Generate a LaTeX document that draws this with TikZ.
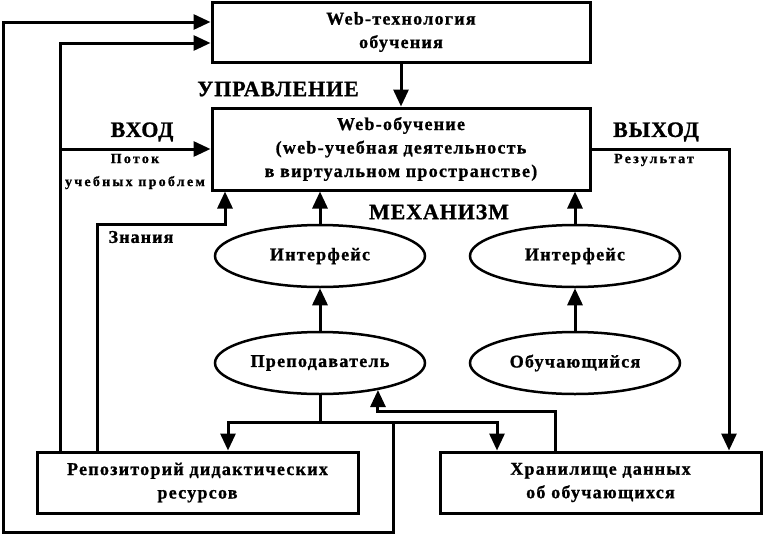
\documentclass[tikz,border=0pt]{standalone}
\usepackage{fontspec}
\setmainfont{Liberation Serif}
\newfontfamily\boxfont{Liberation Serif}[LetterSpace=7,BoldFeatures={FakeBold=1}]
\newfontfamily\bigfont{Liberation Serif}[LetterSpace=4,BoldFeatures={FakeBold=1}]
\newfontfamily\smallfont{Liberation Serif}[LetterSpace=16,BoldFeatures={FakeBold=1}]
\newfontfamily\midfont{Liberation Serif}[LetterSpace=6,BoldFeatures={FakeBold=1}]
\usetikzlibrary{arrows.meta,shapes.geometric}
\begin{document}
\begin{tikzpicture}[x=1pt,y=-1pt,
  box/.style={draw,line width=3pt,inner sep=0pt,align=center,font=\boxfont\bfseries\fontsize{18}{23.5}\selectfont},
  oval/.style={draw,ellipse,line width=2.5pt,inner sep=0pt,minimum width=210pt,minimum height=62pt,font=\boxfont\bfseries\fontsize{18}{23.5}\selectfont},
  conn/.style={line width=3pt},
  arr/.style={line width=3pt,-{Triangle[length=17pt,width=15pt]}},
  biglabel/.style={font=\bigfont\bfseries\fontsize{22}{26}\selectfont},
  smalllabel/.style={font=\smallfont\bfseries\fontsize{14}{23}\selectfont,align=center},
  midlabel/.style={font=\midfont\bfseries\fontsize{18}{22}\selectfont}
]
\useasboundingbox (0,0) rectangle (763,536);
% boxes
\node[box,minimum width=378pt,minimum height=60pt] (top) at (401,32) {Web-технология\\обучения};
\node[box,minimum width=378pt,minimum height=82pt] (mid) at (401,149) {Web-обучение\\(web-учебная деятельность\\в виртуальном пространстве)};
\node[box,minimum width=321pt,minimum height=61pt] (rep) at (197.5,482.5) {Репозиторий дидактических\\ресурсов};
\node[box,minimum width=321pt,minimum height=61pt] (store) at (600.5,482.5) {Хранилище данных\\об обучающихся};
% ellipses
\node[oval] (int1) at (320,256) {Интерфейс};
\node[oval] (int2) at (575,256) {Интерфейс};
\node[oval] (prep) at (320,363) {Преподаватель};
\node[oval] (obuch) at (575,363) {Обучающийся};
% labels
\node[biglabel] (lupr) at (278,89) {УПРАВЛЕНИЕ};
\node[biglabel] (lvh) at (142,132) {ВХОД};
\node[biglabel] (lmeh) at (439,212) {МЕХАНИЗМ};
\node[biglabel] (lvyh) at (656,132) {ВЫХОД};
\node[smalllabel] (lpot) at (135,171.5) {Поток\\учебных проблем};
\node[smalllabel] (lres) at (654,160) {Результат};
\node[midlabel] (lzn) at (141,237) {Знания};
% coordinates
\coordinate (a1) at (60,43);
\coordinate (k) at (97,224);
\coordinate (k2) at (225,224);
\coordinate (outx) at (729,149);
\coordinate (j) at (320,422);
\coordinate (jl) at (228,422);
\coordinate (jr) at (497,422);
\coordinate (o1) at (393,422);
\coordinate (o2) at (393,532);
\coordinate (o3) at (3,532);
\coordinate (o4) at (3,22);
\coordinate (s1) at (555,411);
% connectors
\draw[arr] (top.south) -- (mid.north);
\draw[arr] (mid.east) -- (outx) -- (outx |- store.north);
\draw[arr] (rep.north -| a1) -- (a1) -- (a1 -| top.west);
\draw[arr] (a1 |- mid.west) -- (mid.west);
\draw[arr] (rep.north -| k) -- (k) -- (k2) -- (k2 |- mid.south);
\draw[arr] (int1.north) -- (int1.north |- mid.south);
\draw[arr] (int2.north) -- (int2.north |- mid.south);
\draw[arr] (prep.north) -- (int1.south);
\draw[arr] (obuch.north) -- (int2.south);
\draw[conn] (prep.south) -- (j);
\draw[arr] (j) -- (jl) -- (jl |- rep.north);
\draw[arr] (j) -- (jr) -- (jr |- store.north);
\draw[arr] (o1) -- (o2) -- (o3) -- (o4) -- (o4 -| top.west);
\draw[arr] (store.north -| s1) -- (s1) -- (s1 -| prep.-25) -- (prep.-25);
\end{tikzpicture}
\end{document}
